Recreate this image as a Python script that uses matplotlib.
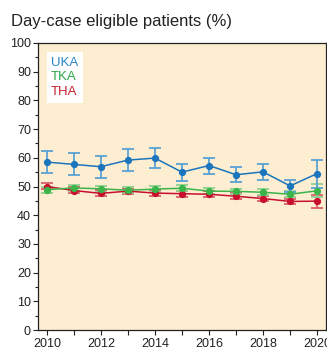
import matplotlib
matplotlib.use("Agg")
import matplotlib.pyplot as plt
from matplotlib.ticker import MultipleLocator, FixedLocator

plt.rcParams["font.family"] = ["Liberation Sans", "DejaVu Sans"]

years = [2010, 2011, 2012, 2013, 2014, 2015, 2016, 2017, 2018, 2019, 2020]

uka = [58.5, 57.7, 56.9, 59.2, 59.9, 55.0, 57.3, 54.1, 55.1, 50.2, 54.5]
uka_lo = [54.7, 54.1, 53.1, 55.5, 56.3, 51.8, 54.5, 51.4, 52.4, 48.0, 49.5]
uka_hi = [62.3, 61.5, 60.8, 62.9, 63.3, 57.7, 60.0, 56.7, 57.7, 52.4, 59.3]

tka = [48.9, 49.5, 49.2, 48.7, 49.1, 49.4, 48.4, 48.3, 48.0, 47.3, 48.5]
tka_lo = [47.9, 48.4, 48.1, 47.8, 48.0, 48.3, 47.4, 47.3, 47.0, 46.3, 46.4]
tka_hi = [50.0, 50.6, 50.3, 49.7, 50.2, 50.5, 49.4, 49.3, 49.0, 48.3, 50.8]

tha = [50.0, 48.6, 47.6, 48.4, 47.7, 47.5, 47.3, 46.6, 45.8, 44.8, 44.9]
tha_lo = [49.0, 47.6, 46.6, 47.5, 46.7, 46.5, 46.3, 45.6, 44.8, 43.8, 42.5]
tha_hi = [51.1, 49.7, 48.7, 49.3, 48.7, 48.5, 48.3, 47.6, 46.8, 45.8, 47.2]

series = [
    ("UKA", uka, uka_lo, uka_hi, "#1b75bc", "#5aa2d4", "#2a84c6"),
    ("TKA", tka, tka_lo, tka_hi, "#3bb54a", "#8fd08f", "#2fa84a"),
    ("THA", tha, tha_lo, tha_hi, "#c8102e", "#d9606e", "#c8202e"),
]

fig = plt.figure(figsize=(3.27, 3.51), dpi=100)
ax = fig.add_axes([0.116, 0.0598, 0.881, 0.8177])
ax.set_facecolor("#fdeed2")

for name, vals, lo, hi, line_c, err_c, _ in [series[2], series[1], series[0]]:
    yerr = [[v - l for v, l in zip(vals, lo)], [h - v for v, h in zip(vals, hi)]]
    ax.errorbar(years, vals, yerr=yerr, fmt="none", ecolor=err_c,
                elinewidth=1.3, capsize=4, capthick=1.3, zorder=2)
    ax.plot(years, vals, color=line_c, lw=1.1, marker="o", ms=4.2,
            markerfacecolor=line_c, markeredgecolor=line_c, zorder=3)

ax.set_xlim(2009.67, 2020.33)
ax.set_ylim(0, 100)
ax.yaxis.set_major_locator(MultipleLocator(10))
ax.yaxis.set_minor_locator(MultipleLocator(5))
ax.xaxis.set_major_locator(FixedLocator(years[::2]))
ax.xaxis.set_minor_locator(FixedLocator(years[1::2]))
ax.tick_params(axis="both", which="major", labelsize=9, length=3.5,
               width=0.8, pad=1.5, colors="#222222")
ax.tick_params(axis="x", which="major", pad=2)
ax.tick_params(axis="both", which="minor", length=2.5, width=0.8, color="#222222")
ax.tick_params(axis="x", which="minor", length=3.5)
for s in ax.spines.values():
    s.set_linewidth(0.9)
    s.set_color("#222222")

# legend box with coloured labels
ax.add_patch(plt.Rectangle((0.031, 0.791), 0.125, 0.178, transform=ax.transAxes,
                           facecolor="white", edgecolor="none", zorder=4))
for i, (name, *_, txt_c) in enumerate(series):
    ax.text(0.045, 0.932 - i * 0.052, name, transform=ax.transAxes,
            color=txt_c, fontsize=9.5, va="center", ha="left", zorder=5)

fig.text(0.035, 0.94, "Day-case eligible patients (%)", fontsize=12,
         color="#222222", ha="left", va="center")

fig.savefig("out.png", dpi=100)
